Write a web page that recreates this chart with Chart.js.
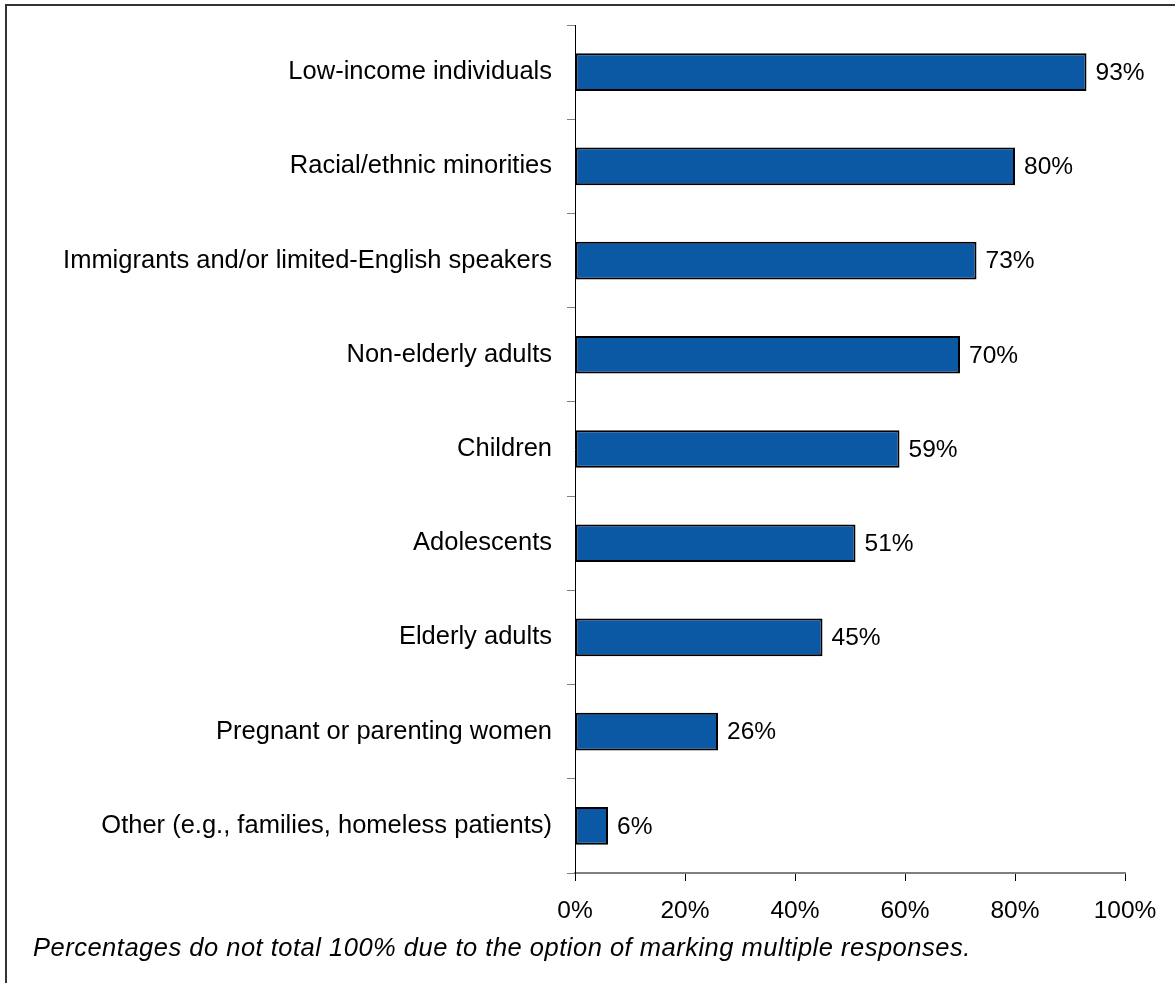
<!DOCTYPE html>
<html>
<head>
<meta charset="utf-8">
<script src="https://cdn.jsdelivr.net/npm/chart.js@4.4.0/dist/chart.umd.min.js"></script>
<style>
  html, body { margin: 0; padding: 0; background: #fff; }
  canvas { display: block; }
</style>
</head>
<body>
<canvas id="groupsChart" width="1175" height="983"></canvas>
<script>
const categories = [
  'Low-income individuals',
  'Racial/ethnic minorities',
  'Immigrants and/or limited-English speakers',
  'Non-elderly adults',
  'Children',
  'Adolescents',
  'Elderly adults',
  'Pregnant or parenting women',
  'Other (e.g., families, homeless patients)'
];
const percentages = [93, 80, 73, 70, 59, 51, 45, 26, 6];
const xTicks = [0, 20, 40, 60, 80, 100];
const footnote = 'Percentages do not total 100% due to the option of marking multiple responses.';

const FONT = "'Liberation Sans', Arial, sans-serif";

// frame, value labels and the footnote
const extras = {
  id: 'extras',
  beforeDraw(chart) {
    const c = chart.ctx;
    c.save();
    c.strokeStyle = '#333';
    c.lineWidth = 2;
    c.beginPath();
    c.moveTo(6, 983);
    c.lineTo(6, 5);
    c.lineTo(1175, 5);
    c.stroke();
    c.restore();
  },
  afterDraw(chart) {
    const c = chart.ctx;
    const meta = chart.getDatasetMeta(0);
    c.save();
    c.fillStyle = '#000';
    c.font = '24.5px ' + FONT;
    c.textBaseline = 'middle';
    c.textAlign = 'left';
    meta.data.forEach((bar, i) => {
      c.fillText(percentages[i] + '%', bar.x + 9, bar.y + 1);
    });
    c.font = 'italic 25.5px ' + FONT;
    c.letterSpacing = '0.5px';
    c.textBaseline = 'alphabetic';
    c.fillText(footnote, 33, 956);
    c.restore();
  }
};

new Chart(document.getElementById('groupsChart'), {
  type: 'bar',
  data: {
    labels: categories,
    datasets: [{
      data: percentages,
      backgroundColor: '#0B58A5',
      borderColor: '#000',
      borderWidth: 2,
      borderSkipped: false,
      barPercentage: 0.4,
      categoryPercentage: 1
    }]
  },
  options: {
    indexAxis: 'y',
    responsive: false,
    animation: false,
    layout: { padding: { top: 25, right: 50, left: 0, bottom: 0 } },
    plugins: { legend: { display: false }, tooltip: { enabled: false } },
    scales: {
      x: {
        min: 0,
        max: 100,
        afterBuildTicks: (scale) => { scale.ticks = xTicks.map(v => ({ value: v })); },
        afterFit: (scale) => { scale.height = 110; },
        ticks: {
          callback: (v) => v + '%',
          color: '#000',
          padding: 16,
          font: { family: FONT, size: 24.5 },
          maxRotation: 0
        },
        grid: { drawOnChartArea: false, tickLength: 8, color: '#000' },
        border: { color: '#808080', width: 2 }
      },
      y: {
        afterFit: (scale) => {
          scale.width = 575;
          scale.paddingTop = 0;
          scale.paddingBottom = 0;
        },
        ticks: {
          color: '#000',
          padding: 15,
          font: { family: FONT, size: 25.5 },
          autoSkip: false
        },
        grid: { drawOnChartArea: false, tickLength: 8, color: '#808080', offset: true },
        border: { color: '#000', width: 1 }
      }
    }
  },
  plugins: [extras]
});
</script>
</body>
</html>
